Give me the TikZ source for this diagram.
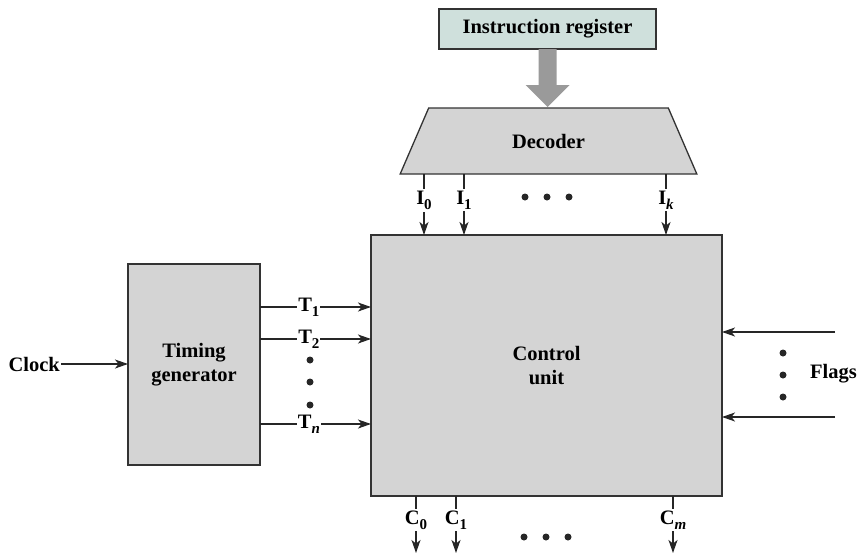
\documentclass[tikz,border=0pt]{standalone}
\usepackage{fontspec}
\setmainfont{Liberation Serif}
\usetikzlibrary{arrows.meta,shapes.geometric}
\definecolor{regfill}{HTML}{CFE0DC}
\definecolor{boxfill}{HTML}{D4D4D4}
\definecolor{busgray}{HTML}{9A9A9A}
\newcommand{\lsub}[1]{\raisebox{-5pt}{\fontsize{15}{15}\selectfont #1}}

\begin{document}
\begin{tikzpicture}[x=1pt, y=-1pt, >={Stealth[length=13pt,width=9pt,inset=3.5pt]},
  every node/.style={font=\fontsize{20.5}{24}\selectfont\bfseries},
  unitbox/.style={draw=black!80, line width=1.3pt, fill=boxfill, inner sep=0pt, outer sep=0pt},
  sig/.style={line width=1.1pt, draw=black!85},
  siglbl/.style={fill=white, inner sep=2pt},
  dot/.style={circle, fill=black!85, inner sep=0pt, minimum size=7pt}]

  \useasboundingbox (0,0) rectangle (863,555);

  % instruction register and its bus into the decoder
  \node[unitbox, fill=regfill, minimum width=217pt, minimum height=40pt] (ir) at (547.5,29) {Instruction register};
  \fill[busgray] (538.5,49) -- (538.5,85) -- (525.5,85) -- (547.5,107) -- (569.5,85) -- (556.5,85) -- (556.5,49) -- cycle;

  % decoder
  \node[unitbox, trapezium, trapezium angle=59, trapezium stretches=true,
        minimum width=299pt, minimum height=66pt] (dec) at (548.5,141) {Decoder};

  % timing generator and control unit
  \node[unitbox, minimum width=132pt, minimum height=201pt, align=center] (tg) at (194,364.5) {Timing\\generator};
  \node[unitbox, minimum width=351pt, minimum height=261pt, align=center] (cu) at (546.5,365.5) {Control\\unit};

  % decoder outputs I
  \foreach \x/\sub in {424/0, 464/1, 666/{\textit{k}}} {
    \coordinate (i) at (\x,0);
    \draw[sig, ->] (dec.south -| i) -- (cu.north -| i) node[siglbl, pos=0.43] {I\lsub{\sub}};
  }
  \foreach \x in {525,547,569} \node[dot] (idot\x) at (\x,197) {};

  % clock into the timing generator
  \node[anchor=east, inner sep=1pt] (clk) at (61,364) {Clock};
  \draw[sig, ->] (clk.east) -- (tg.west |- clk.east);

  % timing outputs T
  \foreach \y/\sub in {307/1, 339/2, 424/{\textit{n}}} {
    \coordinate (t) at (0,\y);
    \draw[sig, ->] (tg.east |- t) -- (cu.west |- t) node[siglbl, pos=0.44, inner sep=1pt] {T\lsub{\sub}};
  }
  \foreach \y in {360,382,405} \node[dot] (tdot\y) at (310,\y) {};

  % flags into the control unit
  \foreach \y in {332,417} {
    \coordinate (f) at (835,\y);
    \draw[sig, ->] (f) -- (cu.east |- f);
  }
  \foreach \y in {353,375,397} \node[dot] (fdot\y) at (783,\y) {};
  \node[anchor=west, inner sep=1pt] (flg) at (809,374) {Flags};

  % control outputs C
  \foreach \x/\sub in {416/0, 456/1, 673/{\textit{m}}} {
    \coordinate (c) at (\x,553);
    \draw[sig, ->] (cu.south -| c) -- (c) node[siglbl, pos=0.42] {C\lsub{\sub}};
  }
  \foreach \x in {524,546,568} \node[dot] (cdot\x) at (\x,537) {};
\end{tikzpicture}
\end{document}
